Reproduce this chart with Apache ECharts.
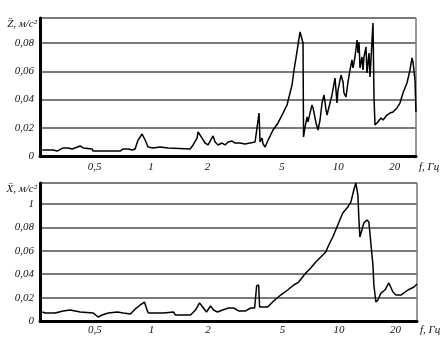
<!DOCTYPE html>
<html><head><meta charset="utf-8">
<script src="https://cdn.jsdelivr.net/npm/echarts@6/dist/echarts.min.js"></script>
<style>html,body{margin:0;padding:0;background:#fff}#c{width:446px;height:354px}</style>
</head><body><div id="c"></div>
<script>
const xTicks=[0.5,1,2,5,10,20];
const xTickText=['0,5','1','2','5','10','20'];
const topYTicks=[0,0.02,0.04,0.06,0.08];
const topYText=['0','0,02','0,04','0,06','0,08'];
const botYTicks=[0,0.02,0.04,0.06,0.08,0.1];
const botYText=['0','0,02','0,04','0,06','0,08','1'];

const topFreq=[0.262,0.300,0.315,0.339,0.360,0.379,0.418,0.434,0.484,0.490,0.683,0.709,0.754,0.792,0.821,0.852,0.895,0.929,0.964,1.025,1.117,1.232,1.615,1.676,1.760,1.782,1.872,1.943,2.015,2.143,2.196,2.279,2.393,2.483,2.577,2.707,2.809,2.986,3.175,3.379,3.592,3.681,3.772,3.819,3.914,3.962,4.061,4.162,4.266,4.481,4.764,5.067,5.322,5.521,5.659,5.80,5.943,6.092,6.245,6.397,6.479,6.52,6.64,6.81,6.89,7.06,7.237,7.33,7.60,7.79,7.987,8.185,8.388,8.597,8.703,8.919,9.256,9.370,9.603,9.84,9.96,10.34,10.6,10.72,10.99,11.27,11.55,11.83,11.98,12.28,12.59,12.74,12.90,13.06,13.38,13.55,13.71,14.06,14.23,14.59,14.77,15.14,15.32,15.40,15.51,15.70,16.09,16.90,17.33,18.20,18.88,19.59,20.58,21.35,22.15,23.27,24.15,24.75,25.06,25.68,25.99];
const topAccel=[0.0042,0.0042,0.0035,0.0057,0.0057,0.005,0.0071,0.0057,0.005,0.0035,0.0035,0.005,0.005,0.0042,0.005,0.0113,0.0156,0.0113,0.0064,0.0057,0.0064,0.0057,0.005,0.0078,0.0127,0.0170,0.0127,0.0092,0.0078,0.0142,0.0099,0.0078,0.0092,0.0078,0.0099,0.0106,0.0092,0.0092,0.0085,0.0092,0.0099,0.0092,0.0304,0.0099,0.0127,0.0085,0.0064,0.0071,0.0127,0.0184,0.0234,0.0304,0.0361,0.0446,0.0503,0.0609,0.0694,0.0786,0.0878,0.0892,0.080,0.0135,0.0205,0.0276,0.0241,0.0304,0.0361,0.034,0.0234,0.0184,0.0255,0.0375,0.0432,0.0326,0.029,0.0347,0.0432,0.0446,0.0552,0.0375,0.0467,0.0573,0.0524,0.0446,0.0418,0.0524,0.0609,0.068,0.0623,0.0701,0.0821,0.0729,0.0807,0.0623,0.0701,0.0609,0.0701,0.0772,0.0588,0.0729,0.0559,0.0821,0.0942,0.0942,0.0418,0.0219,0.0234,0.0269,0.0255,0.029,0.0304,0.0312,0.034,0.0375,0.0446,0.0517,0.0609,0.0694,0.0666,0.0538,0.0312];

const botFreq=[0.262,0.272,0.289,0.307,0.339,0.369,0.418,0.490,0.521,0.547,0.589,0.658,0.709,0.773,0.821,0.873,0.918,0.952,0.964,1.159,1.311,1.343,1.615,1.718,1.804,1.895,1.966,2.065,2.143,2.251,2.393,2.577,2.741,2.914,3.175,3.379,3.548,3.636,3.727,3.772,4.162,4.481,4.883,5.322,5.73,6.092,6.64,7.06,7.51,7.987,8.49,8.81,9.256,9.84,10.46,11.13,11.55,11.98,12.28,12.59,12.74,12.90,13.22,13.55,14.06,14.41,14.59,15.14,15.32,15.70,16.09,16.70,17.54,18.42,19.35,20.08,21.35,23.27,25.06,25.99];
const botAccel=[0.0077,0.0068,0.0068,0.0068,0.0086,0.0094,0.0077,0.0068,0.0034,0.0051,0.0068,0.0077,0.0068,0.006,0.0103,0.0137,0.0162,0.0086,0.0068,0.0068,0.0077,0.0051,0.0051,0.0094,0.0154,0.0111,0.0077,0.0128,0.0094,0.0077,0.0094,0.0111,0.0111,0.0086,0.0086,0.0111,0.0111,0.0299,0.0308,0.012,0.012,0.0171,0.0222,0.0265,0.0308,0.0333,0.041,0.0453,0.0504,0.0547,0.059,0.065,0.0718,0.0821,0.0923,0.0975,0.1017,0.112,0.118,0.1077,0.0881,0.0718,0.0778,0.0838,0.0864,0.0846,0.0752,0.0479,0.0308,0.0162,0.018,0.0239,0.0265,0.0325,0.0248,0.0222,0.0222,0.0265,0.0291,0.0316];

const zip=(a,b)=>a.map((v,i)=>[v,b[i]]);
const font={fontFamily:'Liberation Serif',fontStyle:'italic',fontSize:11,color:'#111'};
function lab(ticks,texts){return v=>{for(let i=0;i<ticks.length;i++){if(Math.abs(v-ticks[i])<1e-6)return texts[i];}return '';};}
function xAxis(gi){return {type:'log',gridIndex:gi,min:0.255,max:26,logBase:10,
  name:'f, Гц',nameLocation:'end',nameGap:3,nameTextStyle:Object.assign({},font,{verticalAlign:'top',align:'left',padding:[gi?4:6,0,0,0]}),
  axisLine:{lineStyle:{color:'#000',width:3}},axisTick:{show:false},splitLine:{show:false},minorTick:{show:false},
  axisLabel:Object.assign({},font,{margin:gi?4:6,customValues:xTicks,formatter:lab(xTicks,xTickText)})};}
function yAxis(gi,max,ticks,texts,title){return {type:'value',gridIndex:gi,min:0,max:max,interval:0.02,
  name:title,nameLocation:'end',nameGap:-6,nameTextStyle:Object.assign({},font,{fontSize:11,align:'right',verticalAlign:'middle',padding:[0,3,0,0]}),
  axisLine:{show:true,lineStyle:{color:'#000',width:3}},axisTick:{show:false},
  splitLine:{show:true,lineStyle:{color:'#7a7a7a',width:2}},
  axisLabel:Object.assign({},font,{margin:6,showMaxLabel:false,formatter:lab(ticks,texts)})};}

const chart=echarts.init(document.getElementById('c'),null,{renderer:'canvas'});
chart.setOption({
  animation:false,backgroundColor:'#fff',
  grid:[{left:40,top:18,right:30,bottom:198,show:true,borderColor:'#333',borderWidth:1},
        {left:40,top:183,right:29,bottom:33,show:true,borderColor:'#333',borderWidth:1}],
  xAxis:[xAxis(0),xAxis(1)],
  yAxis:[yAxis(0,0.0977,topYTicks,topYText,'Z̈, м/с²'),yAxis(1,0.118,botYTicks,botYText,'Ẍ, м/с²')],
  series:[
    {type:'line',xAxisIndex:0,yAxisIndex:0,data:zip(topFreq,topAccel),showSymbol:false,lineStyle:{color:'#000',width:1.5}},
    {type:'line',xAxisIndex:1,yAxisIndex:1,data:zip(botFreq,botAccel),showSymbol:false,lineStyle:{color:'#000',width:1.5}}
  ]
});
</script></body></html>
